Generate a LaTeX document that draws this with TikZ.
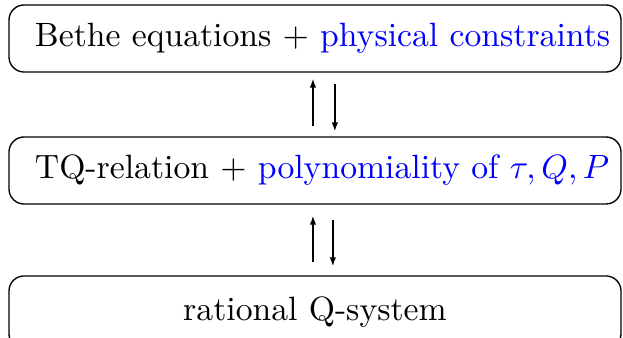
\documentclass[tikz,border=0pt]{standalone}
\usepackage{tikz}
\usetikzlibrary{arrows.meta, positioning}
\usepackage{xcolor}
\tikzset{
  stage/.style = {draw, rounded corners=4.5pt, minimum width=181.6pt,
                  minimum height=19.9pt, text width=166.2pt, inner xsep=7.7pt,
                  inner ysep=0pt, align=center},
  link/.style  = {-{Latex[length=2.6pt,width=1.9pt]}, thin},
}

\begin{document}
\begin{tikzpicture}[x=0.2967pt, y=-0.2967pt]
  \useasboundingbox (0,0) rectangle (623,338);
  % the three stages
  \node[stage] (bethe) at (315,38.5)
    {\mbox{Bethe equations + \textcolor{blue}{physical constraints}}};
  \node[stage] (tq) at (315,170.5)
    {\mbox{TQ-relation + \textcolor{blue}{polynomiality of $\tau, Q, P$}}};
  \node[stage, minimum height=21.7pt] (qsys) at (315,312.5) {rational Q-system};
  % equivalences
  \draw[link] ([xshift=-0.6pt, yshift=3pt]tq.north) -- ([xshift=-0.6pt, yshift=-1.8pt]bethe.south);
  \draw[link] ([xshift=5.9pt, yshift=-3.3pt]bethe.south) -- ([xshift=5.9pt, yshift=1.5pt]tq.north);
  \draw[link] ([xshift=-0.6pt, yshift=3.9pt]qsys.north) -- ([xshift=-0.6pt, yshift=-3.3pt]tq.south);
  \draw[link] ([xshift=5.3pt, yshift=-4.5pt]tq.south) -- ([xshift=5.3pt, yshift=2.7pt]qsys.north);
\end{tikzpicture}
\end{document}
